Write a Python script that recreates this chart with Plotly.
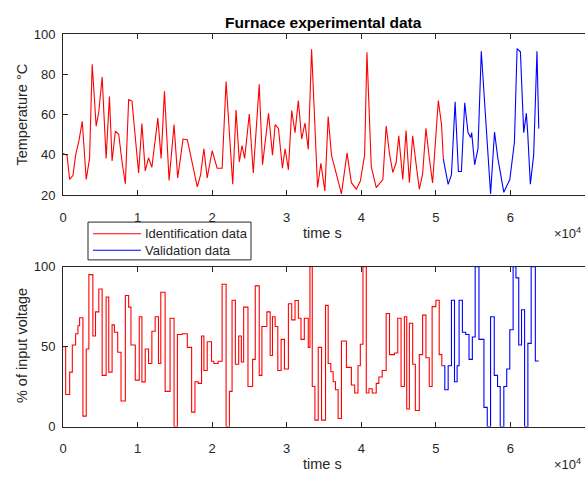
import plotly.graph_objects as go

# ---------------- data ----------------
# Temperature, identification part (time s, °C)
temp_id_t = [0, 538, 893, 1338, 1693, 2138, 2582, 3115, 3560, 3915, 4448, 4804, 5249, 5782,
             6227, 6582, 7027, 7471, 7916, 8360, 8804, 9249, 10138, 10582, 11027, 11471,
             11916, 12716, 13160, 13604, 14227, 14893, 15382, 16093, 16671, 17338, 18004,
             18449, 18893, 19338, 20004, 20671, 21338, 21871, 22760, 23204, 23649, 24004,
             24360, 24982, 25516, 26315, 26760, 27560, 28093, 28448, 28893, 29426, 29782,
             30226, 30671, 31115, 31559, 32004, 32448, 32893, 33337, 34137, 34581, 35115,
             35559, 36004, 36670, 37337, 38093, 38671, 39338, 39871, 40449, 40760, 41337,
             42004, 42893, 43337, 43782, 44226, 44671, 45026, 45560, 46004, 46449, 46893,
             47338, 47782, 48226, 48670, 49115, 49560, 50330, 50760, 51000]
temp_id_y = [40.6, 39.8, 27.7, 29.8, 39.8, 47, 56.6, 27.7, 38.2, 85, 54.2, 61.4, 78.6, 38.2,
             69, 36.9, 51.8, 50.2, 36.5, 25.6, 67.4, 66.7, 30.9, 55.5, 32, 38.5,
             33.7, 58.2, 38.2, 71.6, 27.2, 55, 28.5, 47.8, 47.5, 36.5, 24,
             30, 43, 28.5, 42, 33.3, 33.3, 76.4, 25.3, 62.2, 36.5, 44.6,
             38.2, 60.3, 30.9, 75, 35, 60.6, 39.8, 55, 53, 33.3, 43,
             32.5, 62, 51, 67, 47.8, 55.8, 42.7, 92.5, 23.7, 35.7, 22,
             59, 39.8, 30, 20.5, 40.9, 26.1, 22.9, 26.9, 39.8, 91, 34.1,
             23.7, 27.7, 54.3, 40.6, 31.2, 36, 49.4, 27.7, 52, 26.1, 49.4,
             35.7, 22.9, 30.5, 53.2, 38.5, 26, 67, 55, 38]

# Temperature, validation part
temp_val_t = [51000, 51648, 52093, 52582, 53026, 53426, 53871, 54315, 54671, 54804, 55204,
              55648, 56093, 56671, 57337, 57870, 58315, 59115, 59915, 60537, 60893, 61337,
              61782, 62137, 62315, 62670, 63115, 63559, 63800]
temp_val_y = [38, 25.3, 30.1, 66.3, 31.7, 31.7, 65.9, 51, 48.6, 51, 35,
              43, 91.5, 55.8, 20.5, 51.3, 38.2, 21.3, 27.7, 46.2, 92.8, 91.2,
              51, 60.6, 51, 25.3, 39.8, 91.5, 53]

# Input voltage (%), identification part (step start times, levels)
u_id_t = [0, 360, 893, 1249, 1693, 2004, 2226, 2671, 3115, 3471, 4004, 4360, 4804, 5249,
          5782, 6137, 6582, 6893, 7337, 7782, 8360, 8804, 9115, 9693, 10226, 10582, 11027,
          11471, 11916, 12360, 12804, 13115, 13693, 14360, 14893, 15338, 16004, 16671,
          17249, 17693, 18138, 18582, 18893, 19338, 19916, 20227, 20804, 21338, 21871,
          22316, 22671, 23115, 23560, 23916, 24227, 24804, 25426, 25782, 26315, 26671,
          27337, 27782, 28093, 28448, 28804, 29248, 29693, 30226, 30671, 31115, 31559,
          31915, 32359, 32893, 33115, 33426, 33782, 34226, 34670, 35204, 35559, 35915,
          36226, 36537, 36893, 37337, 38004, 38671, 39115, 39560, 39871, 40226, 40671,
          41026, 41471, 42004, 42360, 42804, 43337, 43782, 44448, 44893, 45337, 45782,
          46093, 46449, 46893, 47248, 47781, 48226, 48670, 49115, 49500, 50004, 50449,
          50800, 51000]
u_id_y = [50, 20, 34, 51, 58, 63, 68, 6.5, 48.5, 95, 56.6, 71.7, 86, 32,
          81, 34, 63.6, 59, 46.5, 16, 82, 74.7, 51, 29, 68.7, 27.9, 48.5,
          39.4, 59.6, 68.7, 39.4, 84, 22, 67.7, 0, 57.6, 58, 49.5,
          9, 28, 27, 56.6, 35, 53, 40.8, 39.4, 40.8, 89, 0,
          22, 79, 39, 56.6, 40.4, 74.7, 25, 42, 88, 32, 62.6,
          71.7, 44.4, 68.7, 62.6, 35, 54.5, 36, 76.8, 66.7, 78.8, 67.7,
          54.5, 67.7, 49.5, 100, 25, 4, 49.5, 4, 75.8, 39.4, 34.3,
          28, 23, 5, 53.5, 37, 26, 21, 38, 51.5, 100, 21,
          23.6, 21, 27, 31, 35, 70.7, 45, 46, 67.7, 25, 68.7,
          11, 64.6, 39, 10, 45, 69.7, 43, 25, 75, 79, 45,
          38, 38]

# Input voltage (%), validation part
u_val_t = [51000, 51200, 51650, 52093, 52500, 52850, 53116, 53560, 54004, 54449, 54893,
           55270, 55782, 56449, 56893, 57337, 57830, 58270, 58630, 59116, 59500, 59915,
           60359, 60740, 61115, 61490, 61900, 62340, 62780, 63340, 63800]
u_val_y = [38, 23, 38, 79, 28, 38, 79, 59, 57.6, 42, 56,
           100, 54.5, 12, 0, 68.7, 32, 25, 0, 25, 36, 60.5,
           100, 93, 51, 73, 0, 52, 100, 41, 41]

x_ticks = [0, 10000, 20000, 30000, 40000, 50000, 60000, 70000]
x_tick_text = ["0", "1", "2", "3", "4", "5", "6", "7"]
temp_ticks = [20, 40, 60, 80, 100]
u_ticks = [0, 50, 100]
legend_labels = ["Identification data", "Validation data"]

RED = "#ff0000"
BLUE = "#0000ff"
AX = "#262626"
FONT = "Liberation Sans, Arial, sans-serif"
TICK_SIZE = 13
LABEL_SIZE = 14.5
TITLE_SIZE = 15.5

W, H = 585, 482
L = 63
PW = W - L


def px(x):
    return (x - L) / PW


def py(y):
    return 1 - y / H


fig = go.Figure()
fig.add_trace(go.Scatter(x=temp_id_t, y=temp_id_y, mode="lines", name=legend_labels[0],
                         showlegend=False, line=dict(color=RED, width=1.1), xaxis="x", yaxis="y"))
fig.add_trace(go.Scatter(x=temp_val_t, y=temp_val_y, mode="lines", name=legend_labels[1],
                         showlegend=False, line=dict(color=BLUE, width=1.1), xaxis="x", yaxis="y"))
fig.add_trace(go.Scatter(x=u_id_t, y=u_id_y, mode="lines", line_shape="hv", showlegend=False,
                         line=dict(color=RED, width=1.1), xaxis="x2", yaxis="y2"))
fig.add_trace(go.Scatter(x=u_val_t, y=u_val_y, mode="lines", line_shape="hv", showlegend=False,
                         line=dict(color=BLUE, width=1.1), xaxis="x2", yaxis="y2"))

xcommon = dict(showline=True, linecolor=AX, linewidth=1, mirror="ticks", ticks="inside",
               ticklen=5, tickcolor=AX, showgrid=False, zeroline=False,
               tickfont=dict(family=FONT, size=TICK_SIZE, color=AX))
ycommon = dict(showline=True, linecolor=AX, linewidth=1, mirror=False, ticks="inside",
               ticklen=5, tickcolor=AX, showgrid=False, zeroline=False,
               tickfont=dict(family=FONT, size=TICK_SIZE, color=AX))

fig.update_layout(
    width=W, height=H,
    margin=dict(l=L, r=0, t=0, b=0),
    paper_bgcolor="white", plot_bgcolor="white",
    font=dict(family=FONT, size=TICK_SIZE, color=AX),
    xaxis=dict(domain=[0, 1], range=[0, 70000], anchor="y", tickvals=x_ticks,
               ticktext=x_tick_text, ticklabelstandoff=10, **xcommon),
    yaxis=dict(domain=[py(194), py(28)], range=[20, 100], anchor="x", tickvals=temp_ticks,
               ticklabelstandoff=4, **ycommon),
    xaxis2=dict(domain=[0, 1], range=[0, 70000], anchor="y2", tickvals=x_ticks,
                ticktext=x_tick_text, ticklabelstandoff=10, **xcommon),
    yaxis2=dict(domain=[py(433), py(268)], range=[0, 100], anchor="x2", tickvals=u_ticks,
                ticklabelstandoff=4, **ycommon),
    showlegend=False,
)

# legend box drawn in paper coordinates
shapes = [
    dict(type="rect", xref="paper", yref="paper", x0=px(88), x1=px(251), y0=py(261), y1=py(222),
         line=dict(color=AX, width=1), fillcolor="white", layer="above"),
    dict(type="line", xref="paper", yref="paper", x0=px(93), x1=px(141), y0=py(234), y1=py(234),
         line=dict(color=RED, width=1.1), layer="above"),
    dict(type="line", xref="paper", yref="paper", x0=px(93), x1=px(141), y0=py(251), y1=py(251),
         line=dict(color=BLUE, width=1.1), layer="above"),
]
fig.update_layout(shapes=shapes)

ann = [
    dict(text="<b>Furnace experimental data</b>", x=px(323), y=py(16),
         font=dict(size=TITLE_SIZE, color="black")),
    dict(text="Temperature °C", x=px(22), y=py(111), textangle=-90,
         font=dict(size=LABEL_SIZE, color=AX)),
    dict(text="% of input voltage", x=px(22), y=py(350), textangle=-90,
         font=dict(size=LABEL_SIZE, color=AX)),
    dict(text="time s", x=px(322), y=py(233), font=dict(size=LABEL_SIZE, color=AX)),
    dict(text="time s", x=px(322), y=py(472), font=dict(size=LABEL_SIZE, color=AX)),
    dict(text="×10<sup>4</sup>", x=px(567), y=py(233), font=dict(size=TICK_SIZE, color=AX)),
    dict(text="×10<sup>4</sup>", x=px(567), y=py(472), font=dict(size=TICK_SIZE, color=AX)),
    dict(text=legend_labels[0], x=px(143), y=py(234), xanchor="left",
         font=dict(size=TICK_SIZE, color=AX)),
    dict(text=legend_labels[1], x=px(143), y=py(251), xanchor="left",
         font=dict(size=TICK_SIZE, color=AX)),
]
for a in ann:
    a.setdefault("xanchor", "center")
    a.update(xref="paper", yref="paper", showarrow=False, yanchor="middle")
    a["font"]["family"] = FONT
fig.update_layout(annotations=ann)

fig.write_html(
    "out.html",
    config={"displayModeBar": False},
    post_script="document.body.style.margin='0';document.body.style.overflow='hidden';",
)
